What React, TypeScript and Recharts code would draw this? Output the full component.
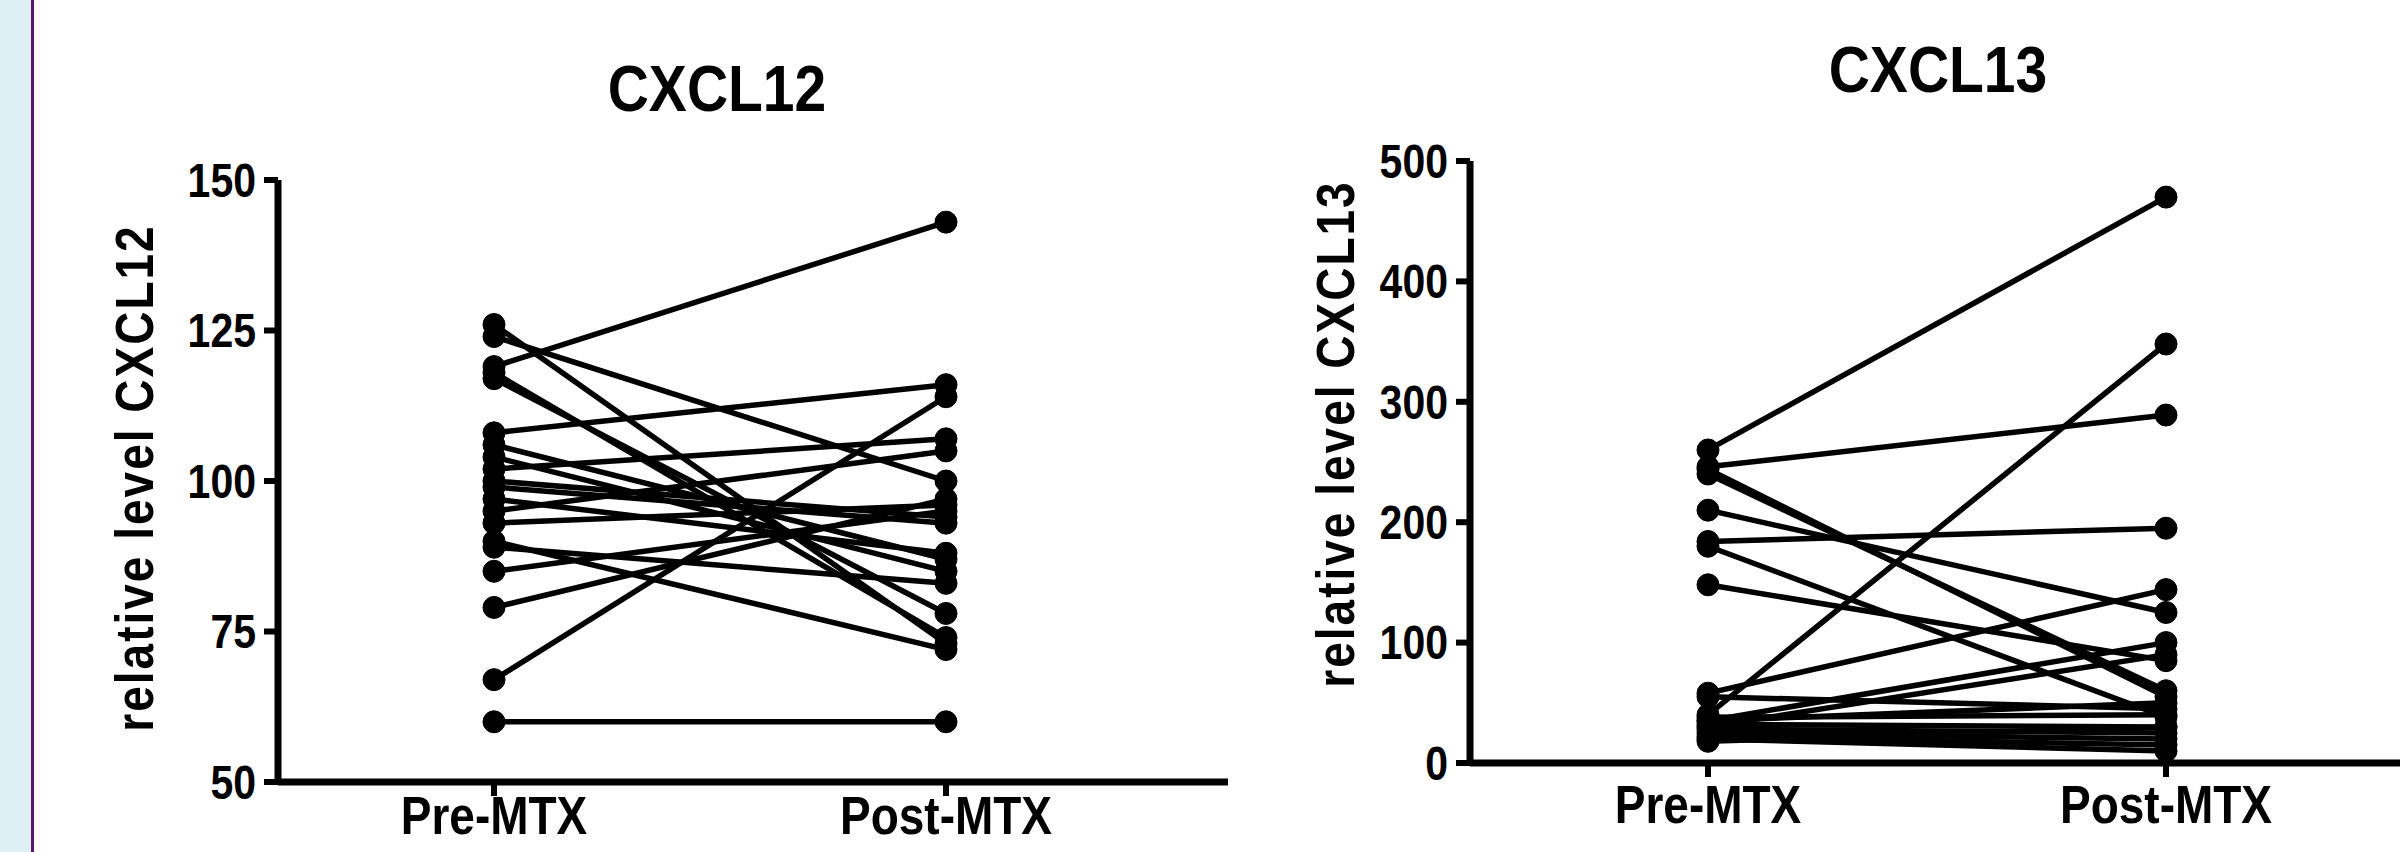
import { Line, LineChart, XAxis, YAxis } from "recharts";

const groups = ["Pre-MTX", "Post-MTX"];

// CXCL12, one entry per patient (pre and post at the same index)
const cxcl12Pre = [126, 124, 119, 117, 118, 108, 106, 104, 102, 100, 99, 97, 95, 93, 90, 89, 85, 79, 67, 60];
const cxcl12Post = [73, 100, 143, 78, 74, 116, 87, 85, 107, 94, 93, 88, 105, 96, 72, 83, 95, 97, 114, 60];
const cxcl12Ticks = [50, 75, 100, 125, 150];

// CXCL13
const cxcl13Pre = [260, 246, 240, 244, 210, 184, 180, 148, 58, 40, 55, 35, 30, 38, 32, 28, 25, 22, 20, 35, 18];
const cxcl13Post = [470, 289, 60, 55, 125, 195, 38, 85, 144, 348, 45, 100, 90, 40, 30, 25, 20, 15, 10, 50, 30];
const cxcl13Ticks = [0, 100, 200, 300, 400, 500];

const font = "'Liberation Sans', Arial, sans-serif";
const stretch = 1.15;

function toRows(pre: number[], post: number[]) {
  return groups.map((g, gi) => {
    const row: Record<string, number | string> = { group: g };
    pre.forEach((v, i) => {
      row["s" + i] = gi === 0 ? v : post[i];
    });
    return row;
  });
}

function XTick(props: any) {
  const { x, y, payload } = props;
  return (
    <text
      transform={`translate(${x},${y}) scale(1,${stretch})`}
      textAnchor="middle"
      dy="0.71em"
      fill="#000"
      fontSize={46}
      fontWeight={700}
      fontFamily={font}
    >
      {payload.value}
    </text>
  );
}

function YTick(props: any) {
  const { x, y, payload } = props;
  return (
    <text
      transform={`translate(${x},${y}) scale(1,${stretch})`}
      textAnchor="end"
      dy="0.355em"
      fill="#000"
      fontSize={41}
      fontWeight={700}
      fontFamily={font}
    >
      {payload.value}
    </text>
  );
}

interface PanelProps {
  left: number;
  width: number;
  top: number;
  bottom: number;
  axisX: number;
  preX: number;
  postX: number;
  rightEnd: number;
  domain: [number, number];
  ticks: number[];
  pre: number[];
  post: number[];
  xTickMargin: number;
}

function Panel(p: PanelProps) {
  const rows = toRows(p.pre, p.post);
  const yw = 120;
  const h = 852;
  return (
    <div style={{ position: "absolute", left: p.left, top: 0 }}>
      <LineChart
        width={p.width}
        height={h}
        data={rows}
        margin={{ top: p.top, right: p.left + p.width - p.rightEnd, bottom: 0, left: p.axisX - p.left - yw }}
      >
        <XAxis
          dataKey="group"
          height={h - p.bottom}
          padding={{ left: p.preX - p.axisX, right: p.rightEnd - p.postX }}
          axisLine={{ stroke: "#000", strokeWidth: 7 }}
          tickLine={{ stroke: "#000", strokeWidth: 6 }}
          tickSize={14}
          tickMargin={p.xTickMargin}
          tick={<XTick />}
          interval={0}
        />
        <YAxis
          width={yw}
          domain={p.domain}
          ticks={p.ticks}
          allowDataOverflow
          axisLine={{ stroke: "#000", strokeWidth: 7 }}
          tickLine={{ stroke: "#000", strokeWidth: 6 }}
          tickSize={14}
          tickMargin={8}
          tick={<YTick />}
        />
        {p.pre.map((_, i) => (
          <Line
            key={i}
            dataKey={"s" + i}
            stroke="#000"
            strokeWidth={5.5}
            dot={{ r: 11, fill: "#000", stroke: "#000", strokeWidth: 1 }}
            activeDot={false}
            isAnimationActive={false}
          />
        ))}
      </LineChart>
    </div>
  );
}

const titleStyle = {
  position: "absolute" as const,
  fontFamily: font,
  fontWeight: 700,
  fontSize: 57,
  color: "#000",
  transform: `translate(-50%, -50%) scaleY(${stretch})`,
  whiteSpace: "nowrap" as const,
};

const ylabelStyle = {
  position: "absolute" as const,
  fontFamily: font,
  fontWeight: 700,
  fontSize: 46,
  letterSpacing: 2,
  color: "#000",
  transform: `translate(-50%, -50%) rotate(-90deg) scaleY(${stretch})`,
  whiteSpace: "nowrap" as const,
};

export default function App() {
  return (
    <div style={{ position: "absolute", left: 0, top: 0, width: 2408, height: 852, background: "#fff", overflow: "hidden" }}>
      <div style={{ position: "absolute", left: 0, top: 0, width: 31, height: 852, background: "#dff0f4" }} />
      <div style={{ position: "absolute", left: 31, top: 0, width: 3, height: 852, background: "#5b1470" }} />

      <Panel
        left={40}
        width={1250}
        top={180}
        bottom={782}
        axisX={278}
        preX={494}
        postX={946}
        rightEnd={1228}
        domain={[50, 150]}
        ticks={cxcl12Ticks}
        pre={cxcl12Pre}
        post={cxcl12Post}
        xTickMargin={0}
      />
      <Panel
        left={1300}
        width={1108}
        top={161}
        bottom={763}
        axisX={1470}
        preX={1708}
        postX={2166}
        rightEnd={2400}
        domain={[0, 500]}
        ticks={cxcl13Ticks}
        pre={cxcl13Pre}
        post={cxcl13Post}
        xTickMargin={8}
      />

      <div style={{ ...titleStyle, left: 717, top: 88 }}>CXCL12</div>
      <div style={{ ...titleStyle, left: 1938, top: 69 }}>CXCL13</div>
      <div style={{ ...ylabelStyle, left: 135, top: 478 }}>relative level CXCL12</div>
      <div style={{ ...ylabelStyle, left: 1336, top: 434 }}>relative level CXCL13</div>
    </div>
  );
}
